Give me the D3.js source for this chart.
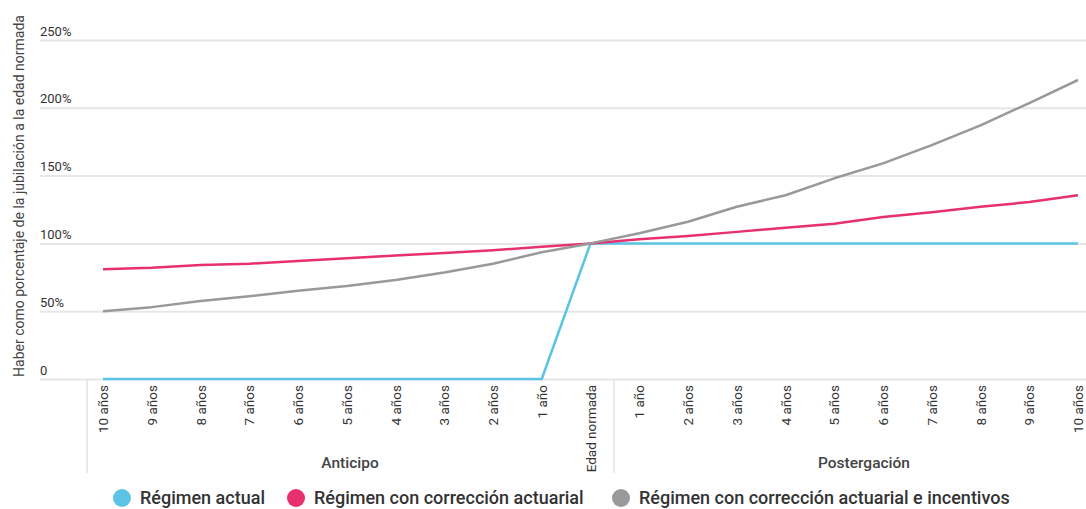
<!DOCTYPE html>
<html>
<head>
<meta charset="utf-8">
<script src="https://cdn.jsdelivr.net/npm/d3@7"></script>
<style>
  body { margin: 0; background: #fff; font-family: Roboto, "Noto Sans", sans-serif; }
  svg { display: block; }
</style>
</head>
<body>
<div id="chart"></div>
<script>
// data
const categories = ["10 años", "9 años", "8 años", "7 años", "6 años", "5 años", "4 años", "3 años", "2 años", "1 año",
  "Edad normada",
  "1 año", "2 años", "3 años", "4 años", "5 años", "6 años", "7 años", "8 años", "9 años", "10 años"];
const groups = ["Anticipo", "Postergación"];
const regimenActual = [0, 0, 0, 0, 0, 0, 0, 0, 0, 0, 100, 100, 100, 100, 100, 100, 100, 100, 100, 100, 100];
const correccionActuarial = [81, 82, 84, 85, 87, 89, 91, 93, 95, 97.5, 100, 103, 105.5, 108.5, 111.5, 114.5, 119.5, 123, 127, 130.5, 135.5];
const conIncentivos = [50, 53, 57.5, 61, 65, 68.5, 73, 78.5, 85, 93.5, 100, 107.5, 116, 127, 135.5, 148, 159, 172.5, 187, 203.5, 220.5];
const seriesNames = ["Régimen actual", "Régimen con corrección actuarial", "Régimen con corrección actuarial e incentivos"];
const seriesColors = ["#5bc4e5", "#e8306f", "#999999"];
const yTicks = [0, 50, 100, 150, 200, 250];

const width = 1086, height = 509;

const svg = d3.select("#chart").append("svg")
  .attr("width", width)
  .attr("height", height);

const x = d3.scalePoint()
  .domain(d3.range(categories.length))
  .range([103, 1078]);

const y = d3.scaleLinear()
  .domain([0, 250])
  .range([379, 40]);

// gridlines + y labels
const yAxis = svg.append("g")
  .attr("transform", "translate(40,0)")
  .call(d3.axisRight(y).tickValues(yTicks).tickSize(1046).tickFormat(d => d === 0 ? "0" : d + "%"));
yAxis.select(".domain").remove();
yAxis.selectAll(".tick line").attr("stroke", "#e6e6e6").attr("stroke-width", 2);
yAxis.selectAll(".tick text")
  .attr("x", 0).attr("dy", -5)
  .attr("text-anchor", "start")
  .attr("fill", "#333")
  .style("font-family", "Roboto")
  .style("font-size", "13px");

// y title
svg.append("text")
  .attr("transform", "translate(24,196) rotate(-90)")
  .attr("text-anchor", "middle")
  .attr("fill", "#444")
  .style("font-size", "14px")
  .text("Haber como porcentaje de la jubilación a la edad normada");

// x axis
const xAxis = svg.append("g")
  .attr("transform", "translate(0,381)")
  .call(d3.axisBottom(x).tickSize(0).tickFormat(i => categories[i]));
xAxis.select(".domain").remove();
xAxis.selectAll(".tick text")
  .attr("transform", "rotate(-90)")
  .attr("x", -4).attr("y", 0).attr("dy", "0.35em")
  .attr("text-anchor", "end")
  .attr("fill", "#333")
  .style("font-family", "Roboto")
  .style("font-size", "13.5px");

// group separators and labels
const sepX = [87, 614];
svg.selectAll(".sep").data(sepX).enter().append("line")
  .attr("x1", d => d).attr("x2", d => d)
  .attr("y1", 380).attr("y2", 473)
  .attr("stroke", "#e3e3e3").attr("stroke-width", 1.5);

const groupX = [350, 864];
svg.selectAll(".grp").data(groups).enter().append("text")
  .attr("x", (d, i) => groupX[i]).attr("y", 468)
  .attr("text-anchor", "middle")
  .attr("fill", "#444")
  .style("font-size", "15.5px").style("font-weight", 500)
  .text(d => d);

// lines
const line = d3.line().x((d, i) => x(i)).y(d => y(d));
const allSeries = [regimenActual, correccionActuarial, conIncentivos];
svg.selectAll(".series").data(allSeries).enter().append("path")
  .attr("d", line)
  .attr("fill", "none")
  .attr("stroke", (d, i) => seriesColors[i])
  .attr("stroke-width", 2.5)
  .attr("stroke-linejoin", "round");

// legend
const legendX = [122, 296, 621];
const lg = svg.selectAll(".lg").data(seriesNames).enter().append("g")
  .attr("transform", (d, i) => `translate(${legendX[i]},498)`);
lg.append("circle").attr("r", 9).attr("fill", (d, i) => seriesColors[i]);
lg.append("text")
  .attr("x", 18).attr("dy", "0.35em")
  .attr("fill", "#333")
  .style("font-size", "18px").style("font-weight", 500)
  .text(d => d);
</script>
</body>
</html>
